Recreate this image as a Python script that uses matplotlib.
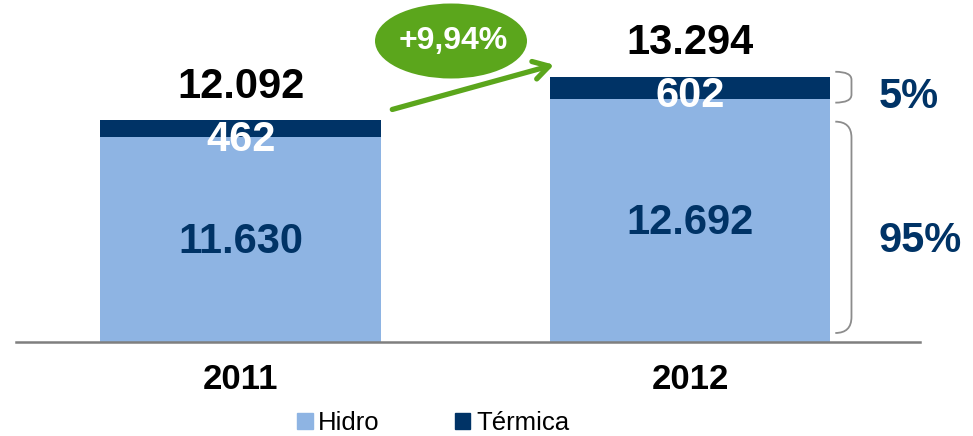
import numpy as np
import matplotlib
matplotlib.use("Agg")
import matplotlib.pyplot as plt
from matplotlib.patches import Patch, Ellipse
from matplotlib.path import Path
from matplotlib.patches import PathPatch

plt.rcParams['font.family'] = ['Liberation Sans', 'DejaVu Sans']

years = ['2011', '2012']
hidro = [11630, 12692]
termica = [462, 602]
growth_label = '+9,94%'

LIGHT = '#8EB4E3'
DARK = '#003366'
GREEN = '#5BA61C'
GRAY = '#8C8C8C'


def fmt(v):
    return '{:,}'.format(v).replace(',', '.')


def main(filename='out.png'):
    fig = plt.figure(figsize=(9.73, 4.36), dpi=100)
    W, H = 973.0, 436.0
    ax = fig.add_axes([16 / W, 94 / H, 904 / W, 342 / H])

    upx = 27.5  # data units per pixel on y
    y0 = 6000
    ax.set_ylim(y0, y0 + 342 * upx)
    ax.set_xlim(-0.5, 1.512)

    x = np.arange(len(years))
    width = 0.625
    hid = np.array(hidro)
    ter = np.array(termica)
    tot = hid + ter

    ax.bar(x, hid, width, color=LIGHT, label='Hidro')
    ax.bar(x, ter, width, bottom=hid, color=DARK, label='Térmica')

    for i in x:
        ax.annotate(fmt(tot[i]), (x[i], tot[i]), xytext=(0, 10),
                    textcoords='offset points', ha='center', va='bottom',
                    fontsize=30, fontweight='bold', color='black')
        ax.annotate(fmt(ter[i]), (x[i], tot[i]), xytext=(0, -14),
                    textcoords='offset points', ha='center', va='center',
                    fontsize=30, fontweight='bold', color='white')
        ax.annotate(fmt(hid[i]), (x[i], (hid[i] + y0) / 2), xytext=(0, -2),
                    textcoords='offset points', ha='center', va='center',
                    fontsize=30, fontweight='bold', color=DARK)

    # braces on the right of the last bar
    right = x[-1] + width / 2
    bx0, bx1 = right + 0.011, right + 0.047

    def brace(ytop, ybot, r):
        verts = [(bx0, ytop), (bx1, ytop), (bx1, ytop - r),
                 (bx1, ybot + r), (bx1, ybot), (bx0, ybot)]
        codes = [Path.MOVETO, Path.CURVE3, Path.CURVE3,
                 Path.LINETO, Path.CURVE3, Path.CURVE3]
        ax.add_patch(PathPatch(Path(verts, codes), fill=False,
                               edgecolor=GRAY, lw=1.3, clip_on=False))

    brace(tot[-1] + 5 * upx, hid[-1] - 4 * upx, 8 * upx)
    brace(hid[-1] - 23 * upx, y0 + 9 * upx, 16 * upx)

    share_t = round(100 * ter[-1] / tot[-1])
    share_h = round(100 * hid[-1] / tot[-1])
    xl = 1.42
    ax.annotate('%d%%' % share_t, (xl, (tot[-1] + hid[-1]) / 2), xytext=(0, -7),
                textcoords='offset points', ha='left', va='center',
                fontsize=30, fontweight='bold', color=DARK, annotation_clip=False)
    ax.annotate('%d%%' % share_h, (xl, (hid[-1] + y0) / 2), xytext=(0, -15),
                textcoords='offset points', ha='left', va='center',
                fontsize=30, fontweight='bold', color=DARK, annotation_clip=False)

    # growth arrow
    ax.annotate('', xy=(x[1] - width / 2 + 0.01, tot[1] + 12 * upx),
                xytext=(x[0] + width / 2 + 0.025, tot[0] + 11 * upx),
                arrowprops=dict(arrowstyle='->,head_length=1.1,head_width=0.65',
                                color=GREEN, lw=3.8, shrinkA=0, shrinkB=0))
    fig.patches.append(Ellipse((451 / W, 1 - 41 / H), 152 / W, 75 / H,
                               transform=fig.transFigure, facecolor=GREEN,
                               edgecolor='none'))
    fig.text(453 / W, 1 - 41 / H, growth_label, ha='center', va='center',
             fontsize=23, fontweight='bold', color='white')

    for s in ['top', 'left', 'right']:
        ax.spines[s].set_visible(False)
    ax.spines['bottom'].set_color('#7F7F7F')
    ax.spines['bottom'].set_linewidth(1.8)
    ax.set_yticks([])
    ax.set_xticks(x)
    ax.set_xticklabels(years, fontsize=25, fontweight='bold')
    ax.tick_params(axis='x', length=0, pad=15)

    handles = [Patch(color=LIGHT, label='Hidro'), Patch(color=DARK, label='Térmica')]
    fig.legend(handles=handles, loc='center', bbox_to_anchor=(433 / W, 1 - 423 / H),
               ncol=2, frameon=False, fontsize=18.5, handlelength=0.62,
               handleheight=0.62, handletextpad=0.22, columnspacing=2.9,
               borderaxespad=0)

    fig.savefig(filename, dpi=100)


if __name__ == "__main__":
    main()
